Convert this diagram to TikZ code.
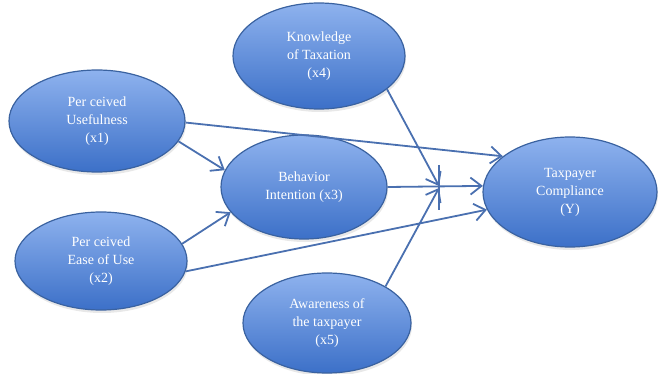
\documentclass[tikz,border=0pt]{standalone}
\usepackage{fontspec}
\setmainfont{Liberation Serif}
\usetikzlibrary{shapes.geometric,arrows.meta,shadows}
\definecolor{edgeblue}{RGB}{74,112,176}
\definecolor{rimblue}{RGB}{58,98,160}
\definecolor{topblue}{RGB}{142,178,238}
\definecolor{botblue}{RGB}{60,112,200}
\begin{document}
\begin{tikzpicture}[x=1pt,y=-1pt,
  bubble/.style={ellipse, draw=rimblue, line width=1.2pt,
    top color=topblue, bottom color=botblue,
    drop shadow={opacity=0.18, shadow xshift=1pt, shadow yshift=-3pt},
    text=white, align=center, inner sep=0pt,
    font=\fontsize{14}{18}\selectfont},
  link/.style={draw=edgeblue, line width=1.8pt,
    -{Straight Barb[length=11pt,width=17pt,line width=1.8pt]}},
  bar/.style={draw=edgeblue, line width=1.8pt}]
\useasboundingbox (0,0) rectangle (661,374);
\node[bubble, minimum width=176pt, minimum height=102pt] (x1) at (97,121) {Per ceived\\Usefulness\\(x1)};
\node[bubble, minimum width=172pt, minimum height=98pt] (x2) at (101,261) {Per ceived\\Ease of Use\\(x2)};
\node[bubble, minimum width=166pt, minimum height=104pt] (x3) at (304,187) {Behavior\\Intention (x3)};
\node[bubble, minimum width=172pt, minimum height=106pt] (x4) at (319,56) {Knowledge\\of Taxation\\(x4)};
\node[bubble, minimum width=168pt, minimum height=100pt] (x5) at (327,323) {Awareness of\\the taxpayer\\(x5)};
\node[bubble, minimum width=174pt, minimum height=110pt] (y) at (570,192) {Taxpayer\\Compliance\\(Y)};
\coordinate (bt) at (439,165);
\coordinate (bb) at (439,210);
\coordinate (ja) at (439,186);
\coordinate (jb) at (439,188);
\draw[bar] (bt) -- (bb);
\draw[link] (x1.-1.3) -- (y.152);
\draw[link] (x1.-14.7) -- (x3.168);
\draw[link] (x2.12.7) -- (x3.-161);
\draw[link] (x2.-7.2) -- (y.192.7);
\draw[link] (x3.0) -- (y.176.7);
\draw[link] (x4.-26) -- (ja);
\draw[link] (x5.32.4) -- (jb);
\end{tikzpicture}
\end{document}
